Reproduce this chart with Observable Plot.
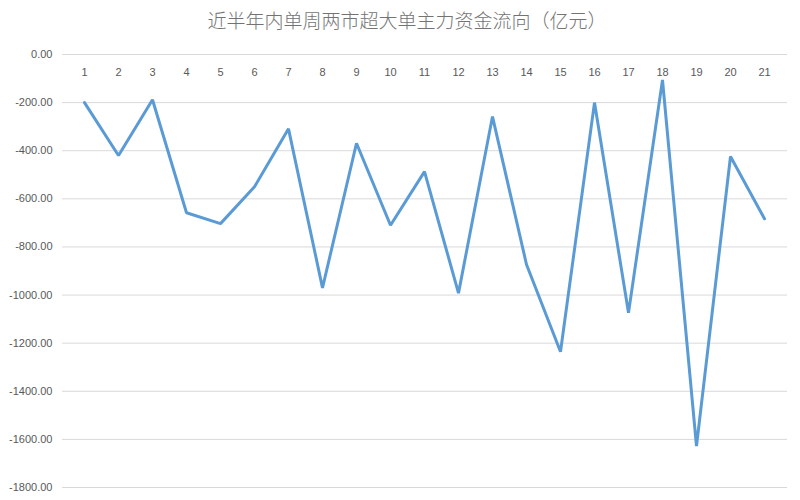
<!DOCTYPE html>
<html>
<head>
<meta charset="utf-8">
<script src="https://cdn.jsdelivr.net/npm/d3@7"></script>
<script src="https://cdn.jsdelivr.net/npm/@observablehq/plot@0.6"></script>
<style>
  body { margin: 0; background: #fff; }
  #title { height: 40px; line-height: 40px; text-align: center; font-family: "Noto Sans CJK SC", sans-serif; font-size: 19px; color: #737373; font-weight: 300; padding-left: 14px; }
  svg { display: block; }
</style>
</head>
<body>
<div id="title">近半年内单周两市超大单主力资金流向（亿元）</div>
<div id="chart"></div>
<script>
const weeks = [1,2,3,4,5,6,7,8,9,10,11,12,13,14,15,16,17,18,19,20,21];
const flows = [-200,-420,-188,-658,-703,-550,-309,-970,-369,-710,-487,-992,-258,-873,-1236,-200,-1074,-106,-1628,-424,-683];
const yTicks = [0,-200,-400,-600,-800,-1000,-1200,-1400,-1600,-1800];

const data = weeks.map((w, i) => ({week: w, value: flows[i]}));

const chart = Plot.plot({
  width: 800,
  height: 460,
  marginTop: 14,
  marginBottom: 13,
  marginLeft: 62,
  marginRight: 13,
  style: {fontFamily: "Liberation Sans, sans-serif", fontSize: "11px", color: "#595959", background: "#fff"},
  x: {type: "point", domain: weeks, range: [77, 770], padding: 0, axis: null},
  y: {domain: [-1800, 0], ticks: yTicks, tickFormat: d => d.toFixed(2), tickSize: 0, tickPadding: 10, label: null},
  marks: [
    Plot.ruleY(yTicks, {stroke: "#d9d9d9", strokeWidth: 1}),
    Plot.axisY({ticks: yTicks, tickFormat: d => d.toFixed(2), tickSize: 0, tickPadding: 10, label: null, fill: "#595959"}),
    Plot.text(weeks, {x: d => d, y: () => 0, dy: 18, text: d => String(d), fill: "#595959", fontSize: 11}),
    Plot.line(data, {x: "week", y: "value", stroke: "#5b9bd5", strokeWidth: 3, strokeLinejoin: "miter"})
  ]
});
document.getElementById("chart").appendChild(chart);
</script>
</body>
</html>
